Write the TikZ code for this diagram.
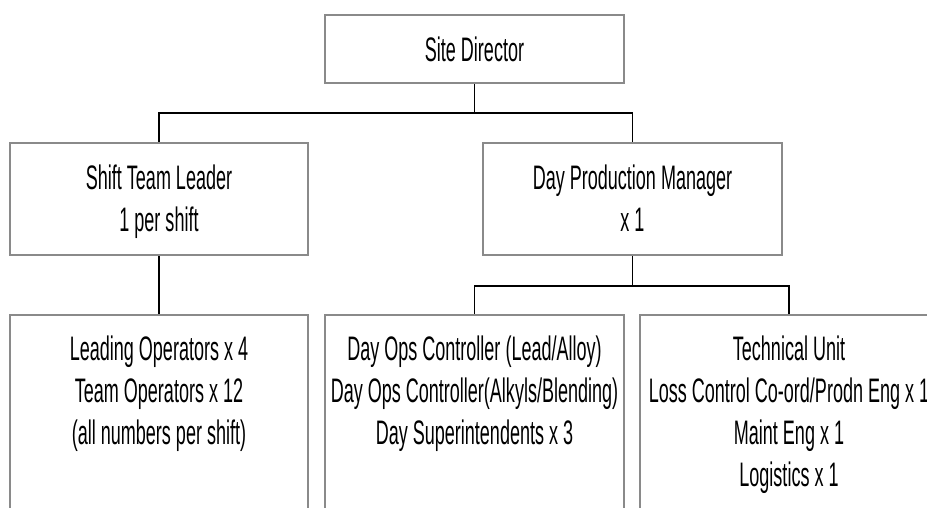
\documentclass[tikz,border=0pt]{standalone}
\usepackage{fontspec}
\setmainfont{Liberation Sans}[FakeStretch=0.53]
\begin{document}
\begin{tikzpicture}[x=1pt,y=-1pt,
  box/.style={draw=boxgray, line width=2.4pt, fill=white, inner sep=0pt},
  txt/.style={align=center, inner sep=0pt, font=\fontsize{34}{42}\selectfont},
  conn/.style={draw=black, line width=1.1pt}]
\definecolor{boxgray}{HTML}{8A8A8A}
\useasboundingbox (0,0) rectangle (927,508);
\clip (0,0) rectangle (927,508);
% connectors first (under boxes)
\node[box, minimum width=299pt, minimum height=68pt] (sd) at (474.5,49) {};
\node[box, minimum width=298pt, minimum height=112pt] (stl) at (159,199) {};
\node[box, minimum width=299pt, minimum height=112pt] (dpm) at (632.5,199) {};
\node[box, minimum width=298pt, minimum height=245pt] (ops) at (159,437.5) {};
\node[box, minimum width=299pt, minimum height=245pt] (doc) at (474.5,437.5) {};
\node[box, minimum width=298pt, minimum height=245pt] (tu) at (789,437.5) {};
\coordinate (j1) at (474.5,113);
\coordinate (j2) at (632.5,286);
\draw[conn] (sd.south) -- (j1);
\draw[conn] (stl.north) -- (stl.north |- j1) -- (dpm.north |- j1) -- (dpm.north);
\draw[conn] (stl.south) -- (ops.north);
\draw[conn] (dpm.south) -- (j2);
\draw[conn] (doc.north) -- (doc.north |- j2) -- (tu.north |- j2) -- (tu.north);
% texts
\node[txt] (sdt) at (sd.center) {Site Director};
\node[txt, yshift=-3pt] (stlt) at (stl.center) {\strut Shift Team Leader\\\strut 1 per shift};
\node[txt, yshift=-3pt] (dpmt) at (dpm.center) {\strut Day Production Manager\\\strut x 1};
\node[txt, anchor=north] (opst) at ([yshift=-16.6pt]ops.north) {\strut Leading Operators x 4\\\strut Team Operators x 12\\\strut (all numbers per shift)};
\node[txt, anchor=north] (doct) at ([yshift=-16.6pt]doc.north) {\strut Day Ops Controller (Lead/Alloy)\\\strut Day Ops Controller(Alkyls/Blending)\\\strut Day Superintendents x 3};
\node[txt, anchor=north] (tut) at ([yshift=-16.6pt]tu.north) {\strut Technical Unit\\\strut Loss Control Co-ord/Prodn Eng x 1\\\strut Maint Eng x 1\\\strut Logistics x 1};
\end{tikzpicture}
\end{document}
